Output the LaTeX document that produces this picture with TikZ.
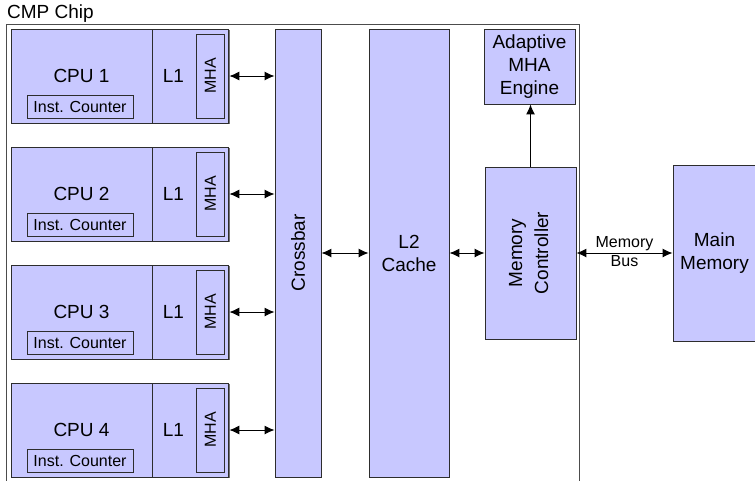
\documentclass[tikz,border=0pt]{standalone}
\usepackage{fontspec}
\setmainfont{Liberation Sans}
\usepackage{graphicx}
\usetikzlibrary{positioning, shadows, arrows.meta}
\definecolor{blkfill}{RGB}{200,200,255}
\definecolor{blkline}{RGB}{45,45,45}

\begin{document}
\begin{tikzpicture}[x=1pt, y=-1pt, >={Latex[length=10pt, width=9pt]}, every node/.style={font=\fontsize{19}{23}\selectfont}]

\useasboundingbox (0,0) rectangle (755,480);

\tikzset{
  blk/.style={rectangle, draw=blkline, fill=blkfill, line width=0.9pt, inner sep=0pt, align=center,
    drop shadow={shadow xshift=1.2pt, shadow yshift=-1.2pt, fill=black!55, opacity=1}},
  inbox/.style={rectangle, draw=blkline, fill=blkfill, line width=0.9pt, inner sep=0pt},
  ctr/.style={inbox, minimum width=106pt, minimum height=23pt, font=\fontsize{16}{19}\selectfont},
  link/.style={<->, line width=1pt},
  smalltxt/.style={font=\fontsize{16}{19}\selectfont}
}

% Chip outline
\draw[black!70, line width=1pt] (6,490) -- (6,24) -- (579,24) -- (579,490);
\node[anchor=base west, inner sep=0pt] (chiplabel) at (7,18) {CMP Chip};

% Crossbar, L2, memory side
\node[blk, minimum width=46pt, minimum height=448pt] (xbar) at (298,253) {\rotatebox{90}{Crossbar}};
\node[blk, minimum width=80pt, minimum height=448pt] (l2) at (409,253) {L2\\Cache};
\node[blk, minimum width=91pt, minimum height=75pt] (eng) at (529.5,66.5) {Adaptive\\MHA\\Engine};
\node[blk, minimum width=91pt, minimum height=172pt] (mc) at (530.5,253)
  {\rotatebox{90}{\begin{tabular}{@{}c@{}}Memory\\[3pt]Controller\end{tabular}}};
\node[blk, minimum width=83pt, minimum height=176pt] (mm) at (714.5,253) {Main\\Memory};

% CPUs with L1 and MHA
\foreach \i in {1,...,4} {
  \pgfmathsetmacro{\yc}{76+118*(\i-1)}
  \node[blk, minimum width=141pt, minimum height=94pt] (cpu\i) at (81.5,\yc) {CPU \i};
  \node[blk, minimum width=76pt, minimum height=94pt, anchor=west] (l1\i) at (cpu\i.east) {};
  \node (l1lab\i) at ([xshift=21pt]l1\i.west) {L1};
  \node[inbox, minimum width=28pt, minimum height=84pt, smalltxt] (mha\i) at ([xshift=-19pt]l1\i.east) {\rotatebox{90}{MHA}};
  \node[ctr] (ic\i) at ([xshift=-1.5pt, yshift=-30.5pt]cpu\i.center) {Inst. Counter};
  \draw[link] (l1\i.east) -- (l1\i.east -| xbar.west);
}

% Links
\draw[link] (xbar.east) -- (l2.west);
\draw[link] (l2.east) -- (mc.west);
\draw[link] (mc.east) -- (mm.west)
  node[midway, above, inner sep=1.5pt, smalltxt] (buslab) {Memory}
  node[midway, below, inner sep=1.5pt, smalltxt] (buslab2) {Bus};
\draw[->, line width=1pt] (mc.north) -- (mc.north |- eng.south);

\end{tikzpicture}
\end{document}
